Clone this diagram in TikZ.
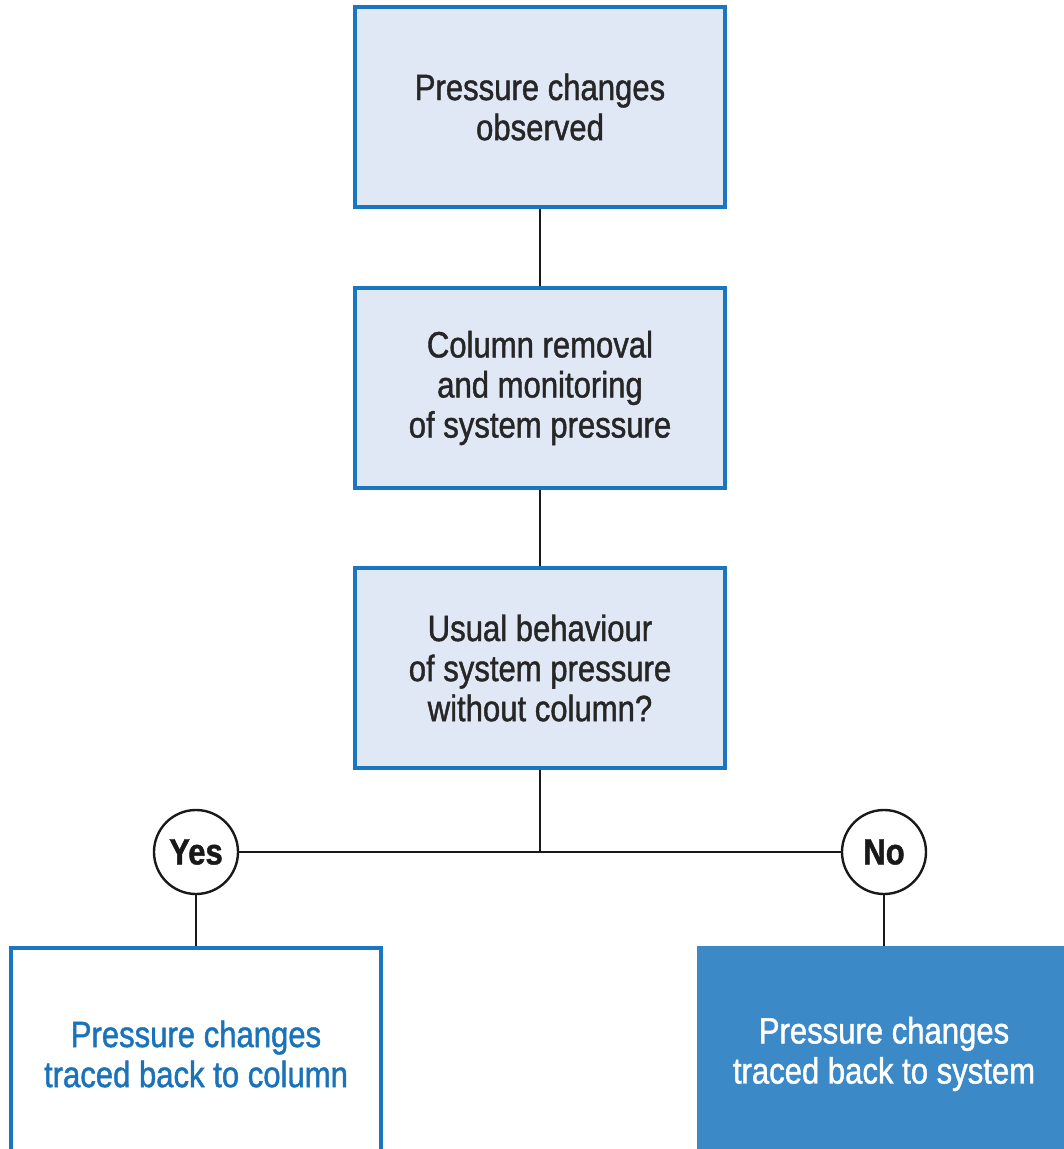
\documentclass[tikz,border=0pt]{standalone}
\usepackage{fontspec}
\setmainfont[FakeStretch=0.85,FakeBold=1.2]{Liberation Sans}
\usepackage{xcolor}
\usepackage{tikz}
\usetikzlibrary{shapes, positioning}

\definecolor{boxfill}{HTML}{E0E8F5}
\definecolor{boxline}{HTML}{1A76C0}
\definecolor{sysfill}{HTML}{3C89C8}
\definecolor{coltext}{HTML}{1A72B9}

\begin{document}
\begin{tikzpicture}
        \useasboundingbox (0,0) rectangle (26.575,-28.725);
        \begin{scope}[every node/.style={draw=boxline,line width=2.2pt,rectangle,
            minimum width=9.25cm,minimum height=5cm,align=center,
            font=\fontsize{26}{28.5}\selectfont,text=black!85}]
          \node[fill=boxfill] (obs) at (13.5,-2.675) {Pressure changes\\observed};
          \node[fill=boxfill] (rem) at (13.5,-9.7) {Column removal\\and monitoring\\of system pressure};
          \node[fill=boxfill] (usual) at (13.5,-16.7) {Usual behaviour\\of system pressure\\without column?};
          \node[fill=white,text=coltext,minimum height=5.3cm] (col) at (4.9,-26.35) {Pressure changes\\traced back to column};
          \node[fill=sysfill,draw=sysfill,text=white,minimum height=5.3cm] (sys) at (22.1,-26.35) {Pressure changes\\traced back to system};
        \end{scope}
        \begin{scope}[every node/.style={draw=black!90,line width=1.7pt,circle,
            minimum size=2.1cm,inner sep=0pt,fill=white,
            font=\fontsize{26}{28.5}\selectfont\bfseries,text=black!90}]
          \node (yes) at (4.9,-21.3) {Yes};
          \node (no) at (22.1,-21.3) {No};
        \end{scope}
        \coordinate (split) at (13.5,-21.3);
        \begin{scope}[every edge/.style={draw=black!90,line width=1.7pt}]
          \path (obs) edge (rem);
          \path (rem) edge (usual);
          \path (usual) edge (split);
          \path (yes) edge (no);
          \path (yes) edge (col);
          \path (no) edge (sys);
        \end{scope}
      \end{tikzpicture}
\end{document}
